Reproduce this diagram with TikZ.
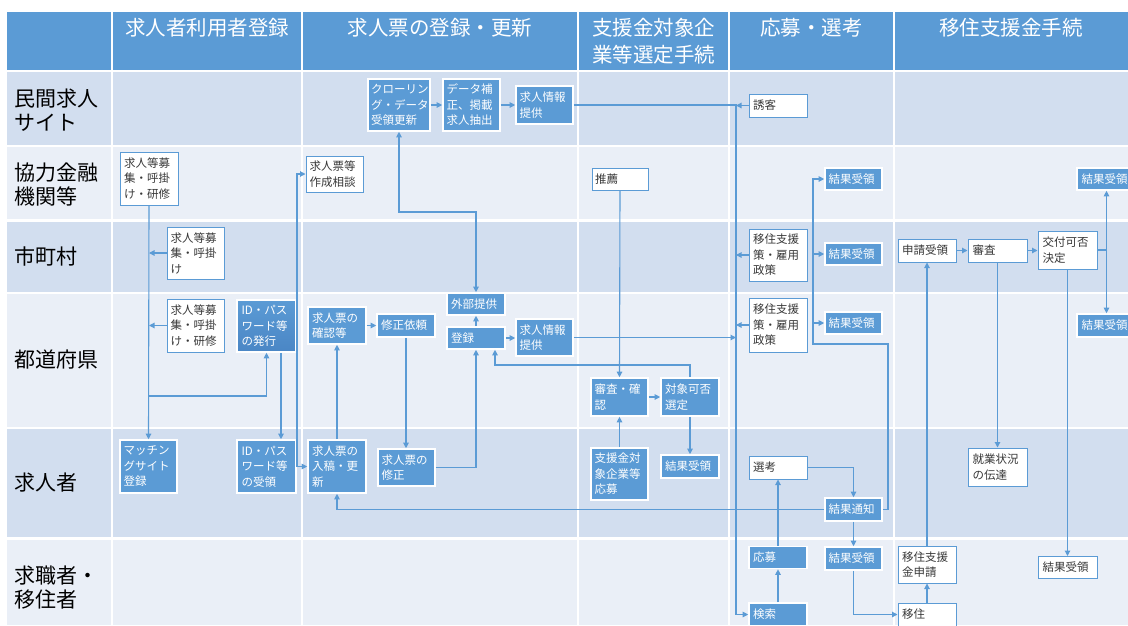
\documentclass[tikz,border=0pt]{standalone}
\usepackage{fontspec}
\setmainfont{Noto Sans CJK JP}
\usetikzlibrary{arrows.meta}
\definecolor{hd}{HTML}{5B9BD5}
\definecolor{hdd}{HTML}{4A86C5}
\definecolor{rowA}{HTML}{D2DEEF}
\definecolor{rowB}{HTML}{EAEFF7}
\definecolor{lnc}{HTML}{5B9BD5}
\definecolor{txt}{HTML}{383838}
\newcommand\bxfont{\fontsize{11.5pt}{15.5pt}\selectfont}
\newcommand\lblfont{\fontsize{21pt}{24pt}\selectfont}
\newcommand\hdfont{\fontsize{20.5pt}{27pt}\selectfont}
\newcommand\bx[8][]{\node[#3,minimum width=#6pt,minimum height=#7pt,#1] (#2) at (#4,#5) {#8};}
\begin{document}
\begin{tikzpicture}[x=1pt,y=-1pt,
  wbox/.style={rectangle, draw=hd, line width=1pt, fill=white, text=txt, inner sep=0pt, font=\bxfont, align=left, text width=50pt},
  bbox/.style={rectangle, draw=white, line width=1.6pt, fill=hd, text=white, inner sep=0pt, font=\bxfont, align=left, text width=50pt},
  conn/.style={draw=lnc, line width=1.1pt, -{Triangle[length=5.5pt,width=5.5pt]}},
  dconn/.style={draw=lnc, line width=1.1pt, {Triangle[length=5.5pt,width=5.5pt]}-{Triangle[length=5.5pt,width=5.5pt]}},
  plain/.style={draw=lnc, line width=1.1pt},
  lbl/.style={anchor=west, align=left, font=\lblfont, text=black, inner sep=0pt},
  hdr/.style={align=center, font=\hdfont, text=white, inner sep=0pt}]
\fill[white] (0,0) rectangle (1128,625);
\useasboundingbox (0,0) rectangle (1128,625);
% table
\fill[hd] (7,12) rectangle (1128,70);
\fill[rowA] (7,72) rectangle (1128,145);
\fill[rowB] (7,147) rectangle (1128,219);
\fill[rowA] (7,222) rectangle (1128,292);
\fill[rowB] (7,294) rectangle (1128,427);
\fill[rowA] (7,429) rectangle (1128,537);
\fill[rowB] (7,540) rectangle (1128,625);
\foreach \x in {112,302,578,729,894} \draw[white, line width=2pt] (\x,12) -- (\x,625);
% headers
\node[hdr] (h1) at (207,28) {求人者利用者登録};
\node[hdr] (h2) at (440,28) {求人票の登録・更新};
\node[hdr] (h3) at (653.5,41.5) {支援金対象企\\業等選定手続};
\node[hdr] (h4) at (811.5,28) {応募・選考};
\node[hdr] (h5) at (1011,28) {移住支援金手続};
% row labels
\node[lbl] (l1) at (14,110) {民間求人\\サイト};
\node[lbl] (l2) at (14,185) {協力金融\\機関等};
\node[lbl] (l3) at (14,256) {市町村};
\node[lbl] (l4) at (14,360) {都道府県};
\node[lbl] (l5) at (14,483) {求人者};
\node[lbl] (l6) at (14,588) {求職者・\\移住者};
% row 1
\bx[text width=56pt]{crawl}{bbox}{399}{105}{62}{52}{クローリン\\グ・データ\\受領更新}
\bx{hosei}{bbox}{471.5}{105}{57}{52}{データ補\\正、掲載\\求人抽出}
\bx{teikyoA}{bbox}{544.5}{105}{57}{38}{求人情報\\提供}
\bx{yuukyaku}{wbox}{778}{105.5}{58}{23}{誘客}
% row 2
\bx{boshuA}{wbox}{149}{178.5}{58}{53}{求人等募\\集・呼掛\\け・研修}
\bx{soudan}{wbox}{334.5}{174}{57}{36}{求人票等\\作成相談}
\bx{suisen}{wbox}{620}{179}{56}{22}{推薦}
\bx{kekkaA}{bbox}{853.5}{179}{57}{22}{結果受領}
\bx{kekkaRA}{bbox}{1106.5}{179}{59}{22}{結果受領}
% row 3
\bx{boshuB}{wbox}{195.5}{253}{57}{52}{求人等募\\集・呼掛\\け}
\bx{ijuuA}{wbox}{778}{255}{58}{52}{移住支援\\策・雇用\\政策}
\bx{kekkaB}{bbox}{853.5}{254}{57}{22}{結果受領}
\bx{shinsei}{wbox}{927}{250.5}{58}{23}{申請受領}
\bx{shinsa}{wbox}{997.5}{250.5}{59}{23}{審査}
\bx{kofu}{wbox}{1067.5}{250}{59}{38}{交付可否\\決定}
% row 4
\bx{boshuC}{wbox}{195.5}{325.5}{57}{53}{求人等募\\集・呼掛\\け・研修}
\bx[top color=hd, bottom color=hdd]{idA}{bbox}{266.5}{326}{59}{52}{ID・パス\\ワード等\\の発行}
\bx{kakunin}{bbox}{337}{325.5}{58}{37}{求人票の\\確認等}
\bx{irai}{bbox}{406}{325.5}{58}{23}{修正依頼}
\bx{gaibu}{bbox}{476}{304}{58}{22}{外部提供}
\bx{touroku}{bbox}{476}{338}{58}{22}{登録}
\bx{teikyoB}{bbox}{544.5}{337.5}{57}{37}{求人情報\\提供}
\bx{shinsaB}{bbox}{619.5}{397}{57}{38}{審査・確\\認}
\bx{sentei}{bbox}{690}{397}{58}{38}{対象可否\\選定}
\bx{ijuuB}{wbox}{778}{325}{58}{54}{移住支援\\策・雇用\\政策}
\bx{kekkaC}{bbox}{853.5}{323}{57}{22}{結果受領}
\bx{kekkaRB}{bbox}{1106.5}{325.5}{59}{23}{結果受領}
% row 5
\bx{matching}{bbox}{148.5}{466.5}{57}{53}{マッチン\\グサイト\\登録}
\bx{idB}{bbox}{266.5}{466.5}{59}{53}{ID・パス\\ワード等\\の受領}
\bx{nyuko}{bbox}{337}{466.5}{58}{53}{求人票の\\入稿・更\\新}
\bx{shusei}{bbox}{406.5}{467.5}{57}{37}{求人票の\\修正}
\bx{ouboA}{bbox}{619.5}{474}{57}{52}{支援金対\\象企業等\\応募}
\bx{kekkaD}{bbox}{690}{466.5}{58}{23}{結果受領}
\bx{senkou}{wbox}{778}{467.5}{58}{23}{選考}
\bx{tsuchi}{bbox}{853.5}{509.5}{57}{23}{結果通知}
\bx{shugyo}{wbox}{997.5}{467}{59}{38}{就業状況\\の伝達}
% row 6
\bx{ouboB}{bbox}{778}{557.5}{58}{22}{応募}
\bx{kekkaE}{bbox}{853.5}{558.5}{57}{23}{結果受領}
\bx{kensaku}{bbox}{778}{614.5}{58}{23}{検索}
\bx{ijuuC}{wbox}{927}{564.5}{58}{37}{移住支援\\金申請}
\bx{iju}{wbox}{927}{614.5}{58}{23}{移住}
\bx{kekkaF}{wbox}{1067.5}{567.5}{59}{22}{結果受領}
% helper coordinates
\coordinate (bus) at (736,0);
\coordinate (cgy) at (0,212);
\coordinate (st) at (495,365);
\coordinate (tr) at (888,344);
\coordinate (tl) at (813,344);
\coordinate (kr) at (1106.5,250);
\coordinate (lb) at (149,396);
\coordinate (sx) at (297,0);
% connectors row 1 / bus
\draw[conn] (crawl.east) -- (hosei.west);
\draw[conn] (hosei.east) -- (teikyoA.west);
\draw[conn] (teikyoA.east) -- (teikyoA.east -| bus) -- (bus |- kensaku.west) -- (kensaku.west);
\draw[conn] (yuukyaku.west) -- (yuukyaku.west -| bus);
\draw[conn] (ijuuA.west) -- (ijuuA.west -| bus);
\draw[conn] (ijuuB.west) -- (ijuuB.west -| bus);
\draw[conn] (teikyoB.east) -- (teikyoB.east -| bus);
\draw[dconn] (crawl.south) -- (crawl.south |- cgy) -- (gaibu.north |- cgy) -- (gaibu.north);
% job posting
\draw[conn] (touroku.north) -- (gaibu.south);
\draw[conn] (touroku.east) -- (teikyoB.west |- touroku.east);
\draw[conn] (kakunin.east) -- (irai.west);
\draw[conn] (irai.south) -- (irai.south |- shusei.north);
\draw[conn] (shusei.east) -- (shusei.east -| touroku.south) -- (touroku.south);
\draw[conn] (sentei.north) -- (sentei.north |- st) -- (st) -- (st |- touroku.south);
\draw[conn] (nyuko.north) -- (kakunin.south);
\draw[conn] (tsuchi.west) -- (tsuchi.west -| nyuko.south) -- (nyuko.south);
\draw[dconn] (soudan.west) -- (soudan.west -| sx) -- (sx |- nyuko.west) -- (nyuko.west);
% selection
\draw[conn] (suisen.south) -- (shinsaB.north);
\draw[conn] (ouboA.north) -- (shinsaB.south);
\draw[conn] (shinsaB.east) -- (sentei.west);
\draw[conn] (sentei.south) -- (kekkaD.north);
% application
\draw[conn] (kensaku.north) -- (ouboB.south);
\draw[conn] (ouboB.north) -- (senkou.south);
\draw[conn] (senkou.east) -- (senkou.east -| tsuchi.north) -- (tsuchi.north);
\draw[conn] (tsuchi.south) -- (kekkaE.north);
\draw[conn] (tsuchi.east) -- (tsuchi.east -| tr) -- (tr) -- (tl) -- (tl |- kekkaA.west) -- (kekkaA.west);
\draw[conn] (tl |- kekkaB.west) -- (kekkaB.west);
\draw[conn] (tl |- kekkaC.west) -- (kekkaC.west);
% relocation
\draw[conn] (kekkaE.south) -- (kekkaE.south |- iju.west) -- (iju.west);
\draw[conn] (iju.north) -- (ijuuC.south);
\draw[conn] (ijuuC.north) -- (shinsei.south);
\draw[conn] (shinsei.east) -- (shinsa.west);
\draw[conn] (shinsa.east) -- (shinsa.east -| kofu.west);
\draw[conn] (shinsa.south) -- (shugyo.north);
\draw[conn] (kofu.south) -- (kekkaF.north);
\draw[plain] (kofu.east) -- (kr);
\draw[conn] (kr) -- (kekkaRA.south);
\draw[conn] (kr) -- (kekkaRB.north);
% left part
\draw[conn] (boshuA.south) -- (matching.north);
\draw[conn] (boshuB.west) -- (boshuB.west -| boshuA.south);
\draw[conn] (boshuC.west) -- (boshuC.west -| boshuA.south);
\draw[conn] (lb) -- (lb -| idA.south) -- (idA.south);
\draw[conn] ([xshift=14.5pt]idA.south) -- ([xshift=14.5pt]idB.north);
\end{tikzpicture}
\end{document}
